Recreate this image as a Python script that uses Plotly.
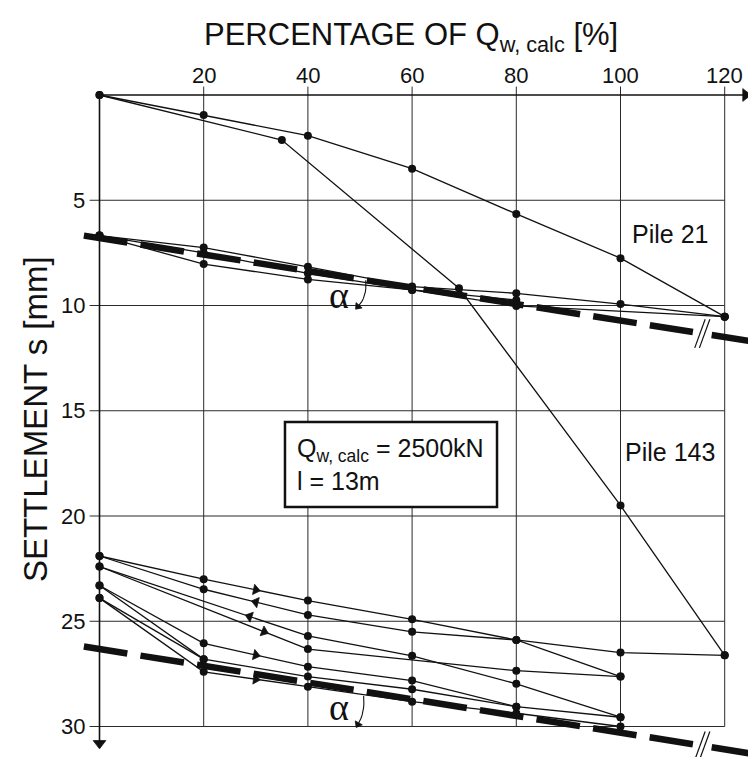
import plotly.graph_objects as go

# ---------------- data ----------------
pct_ticks = [20, 40, 60, 80, 100, 120]
s_ticks = [5, 10, 15, 20, 25, 30]

# first loading curves
pile21_x = [0, 20, 40, 60, 80, 100, 120]
pile21_s = [0, 0.95, 1.93, 3.5, 5.65, 7.75, 10.53]

pile143_x = [0, 35, 69, 100, 120]
pile143_s = [0, 2.14, 9.18, 19.5, 26.62]

# Pile 21 load cycles
p21_c1_x = [0, 20, 40, 60, 80, 100, 120]
p21_c1_s = [6.68, 7.25, 8.16, 9.1, 9.42, 9.93, 10.53]
p21_c2_x = [0, 20, 40, 60, 80]
p21_c2_s = [6.68, 7.5, 8.47, 9.26, 9.74]
p21_c3_x = [0, 20, 40, 60, 80, 120]
p21_c3_s = [6.68, 8.03, 8.76, 9.26, 10.02, 10.53]

# Pile 143 load cycles
p143_c1_x = [0, 20, 40, 60, 80, 100, 120]
p143_c1_s = [21.9, 23.0, 24.02, 24.91, 25.89, 26.49, 26.62]
p143_c2_x = [0, 20, 40, 60, 80, 100]
p143_c2_s = [21.9, 23.48, 24.7, 25.5, 25.89, 27.63]
p143_c3_x = [0, 40, 60, 80, 100]
p143_c3_s = [22.4, 25.7, 26.64, 27.97, 29.56]
p143_c4_x = [0, 40, 80, 100]
p143_c4_s = [22.4, 26.32, 27.35, 27.63]
p143_c5_x = [0, 20, 40, 60, 80, 100]
p143_c5_s = [23.3, 26.05, 27.16, 27.82, 29.06, 29.56]
p143_c6_x = [0, 20, 40, 60, 80]
p143_c6_s = [23.3, 26.8, 27.63, 28.23, 29.06]
p143_c7_x = [0, 20]
p143_c7_s = [23.9, 26.8]
p143_c8_x = [0, 20, 40, 60, 80, 100]
p143_c8_s = [23.9, 27.4, 28.11, 28.82, 29.37, 30.0]

# direction arrows on cycle lines: (x0, s0, x1, s1, position fraction, direction)
cycle_arrows = [
    (20, 23.0, 40, 24.02, 0.5, 1),
    (20, 23.48, 40, 24.7, 0.5, -1),
    (0, 22.4, 40, 25.7, 0.72, -1),
    (0, 22.4, 40, 26.32, 0.79, 1),
    (20, 26.05, 40, 27.16, 0.5, 1),
    (20, 27.4, 40, 28.11, 0.5, 1),
]

# envelope (dashed) lines and their break gap
env21_x = [-3, 124.6]
env21_s = [6.68, 11.68]
env143_x = [-3, 124.6]
env143_s = [26.2, 31.27]
break_gap = [113.9, 117.5]

# ---------------- geometry of the page ----------------
W, H = 748, 757
X0_PX, X_SCALE = 99.5, 5.21     # pixel of x=0, pixels per %
Y0_PX, Y_SCALE = 95.0, 21.05    # pixel of s=0, pixels per mm
x_rng = [(0 - X0_PX) / X_SCALE, (W - X0_PX) / X_SCALE]
y_rng = [(H - Y0_PX) / Y_SCALE, (0 - Y0_PX) / Y_SCALE]

INK = "#111111"
SANS = "Liberation Sans, Arial, Helvetica, sans-serif"
SERIF = "Liberation Serif, DejaVu Serif, serif"

fig = go.Figure()

# grid
gx, gy = [], []
for t in pct_ticks:
    gx += [t, t, None]
    gy += [-0.4, s_ticks[-1], None]
for t in s_ticks:
    gx += [-1.9, pct_ticks[-1], None]
    gy += [t, t, None]
fig.add_trace(go.Scatter(x=gx, y=gy, mode="lines",
                         line=dict(color="#2a2a2a", width=1), hoverinfo="skip"))

HEAD = dict(angleref="previous", color=INK, opacity=1, line=dict(width=0.8, color=INK))


def arrow_line(xs, ys, width=1.4, head=12, symbol="triangle-up"):
    """polyline whose last point carries an arrowhead oriented along the line"""
    n = len(xs)
    fig.add_trace(go.Scatter(
        x=xs, y=ys, mode="lines",
        line=dict(color=INK, width=width), hoverinfo="skip"))
    fig.add_trace(go.Scatter(
        x=xs[-2:], y=ys[-2:], mode="markers",
        marker=dict(symbol=["circle", symbol], size=[0, head], **HEAD),
        hoverinfo="skip"))


# axes with arrows
arrow_line([0, 124.0], [0, 0], width=1.6, head=11)
arrow_line([0, 0], [0, 30.8], width=1.6, head=11)


def curve(x, s, w=1.3):
    fig.add_trace(go.Scatter(x=x, y=s, mode="lines+markers",
                             line=dict(color=INK, width=w),
                             marker=dict(color=INK, size=8),
                             hoverinfo="skip"))


for xs, ss in [(pile21_x, pile21_s), (pile143_x, pile143_s),
               (p21_c1_x, p21_c1_s), (p21_c2_x, p21_c2_s), (p21_c3_x, p21_c3_s),
               (p143_c1_x, p143_c1_s), (p143_c2_x, p143_c2_s), (p143_c3_x, p143_c3_s),
               (p143_c4_x, p143_c4_s), (p143_c5_x, p143_c5_s), (p143_c6_x, p143_c6_s),
               (p143_c7_x, p143_c7_s), (p143_c8_x, p143_c8_s)]:
    curve(xs, ss)

# direction arrows on cycles (arrowhead marker only)
for x0, s0, x1, s1, f, d in cycle_arrows:
    hx = x0 + (x1 - x0) * f
    hy = s0 + (s1 - s0) * f
    f2 = f - 0.05 * d
    tx = x0 + (x1 - x0) * f2
    ty = s0 + (s1 - s0) * f2
    fig.add_trace(go.Scatter(
        x=[tx, hx], y=[ty, hy], mode="markers",
        marker=dict(symbol=["circle", "triangle-up"], size=[0, 9], **HEAD),
        hoverinfo="skip"))


# dashed envelopes with break marks
def interp(xe, se, x):
    return se[0] + (se[1] - se[0]) * (x - xe[0]) / (xe[1] - xe[0])


for xe, se in [(env21_x, env21_s), (env143_x, env143_s)]:
    for a, b in [(xe[0], break_gap[0]), (break_gap[1], xe[1])]:
        fig.add_trace(go.Scatter(x=[a, b], y=[interp(xe, se, a), interp(xe, se, b)],
                                 mode="lines",
                                 line=dict(color=INK, width=6.5, dash="44px,13.3px"),
                                 hoverinfo="skip"))
    xm = 0.5 * (break_gap[0] + break_gap[1])
    sm = interp(xe, se, xm)
    bx, by = [], []
    for off in [-0.45, 0.45]:
        bx += [xm + off + 1.0, xm + off - 1.0, None]
        by += [sm - 0.68, sm + 0.68, None]
    fig.add_trace(go.Scatter(x=bx, y=by, mode="lines",
                             line=dict(color=INK, width=1.2), hoverinfo="skip"))

# angle alpha arcs (quadratic curve from envelope down to grid line)
for p0, c, p1 in [((51.1, 8.8), (51.4, 9.6), (49.6, 10.05)),
                  ((50.7, 28.55), (51.0, 29.35), (49.6, 29.9))]:
    ax_, ay_ = [], []
    for i in range(9):
        t = i / 8
        ax_.append((1 - t) ** 2 * p0[0] + 2 * (1 - t) * t * c[0] + t ** 2 * p1[0])
        ay_.append((1 - t) ** 2 * p0[1] + 2 * (1 - t) * t * c[1] + t ** 2 * p1[1])
    arrow_line(ax_, ay_, width=1.1, head=7)

annotations = []

# tick labels
for t in pct_ticks:
    annotations.append(dict(x=t, y=-0.92, xref="x", yref="y", text=str(t), showarrow=False,
                            font=dict(family=SANS, size=22, color=INK),
                            xanchor="center", yanchor="middle"))
for t in s_ticks:
    annotations.append(dict(x=-2.4, y=t, xref="x", yref="y", text=str(t), showarrow=False,
                            font=dict(family=SANS, size=22, color=INK),
                            xanchor="right", yanchor="middle"))

# axis titles
annotations.append(dict(x=59.8, y=-2.75, xref="x", yref="y",
                        text="PERCENTAGE OF Q<sub>w, calc</sub> [%]", showarrow=False,
                        font=dict(family=SANS, size=31, color=INK),
                        xanchor="center", yanchor="middle"))
annotations.append(dict(x=-12.4, y=15.4, xref="x", yref="y",
                        text="SETTLEMENT s [mm]", showarrow=False, textangle=-90,
                        font=dict(family=SANS, size=33, color=INK),
                        xanchor="center", yanchor="middle"))

# pile labels
annotations.append(dict(x=101.8, y=6.6, xref="x", yref="y", text="Pile 21", showarrow=False,
                        font=dict(family=SANS, size=25, color=INK),
                        xanchor="left", yanchor="middle"))
annotations.append(dict(x=100.5, y=16.96, xref="x", yref="y", text="Pile 143", showarrow=False,
                        font=dict(family=SANS, size=25, color=INK),
                        xanchor="left", yanchor="middle"))

# info box text
annotations.append(dict(x=37.6, y=17.55, xref="x", yref="y",
                        text="Q<sub>w, calc</sub> = 2500kN<br>l = 13m", showarrow=False,
                        align="left", font=dict(family=SANS, size=25, color=INK),
                        xanchor="left", yanchor="middle"))

# alpha labels
for tx, ty in [(46.0, 9.5), (46.0, 29.05)]:
    annotations.append(dict(x=tx, y=ty, xref="x", yref="y", text="α", showarrow=False,
                            font=dict(family=SERIF, size=38, color=INK),
                            xanchor="center", yanchor="middle"))

# info box
shapes = [dict(type="rect", xref="x", yref="y", x0=35.6, x1=76.3, y0=15.53, y1=19.57,
               line=dict(color=INK, width=2.5), fillcolor="white", layer="above")]

fig.update_layout(
    width=W, height=H, autosize=False,
    margin=dict(l=0, r=0, t=0, b=0, pad=0),
    paper_bgcolor="white", plot_bgcolor="white",
    showlegend=False,
    xaxis=dict(range=x_rng, visible=False, fixedrange=True),
    yaxis=dict(range=y_rng, visible=False, fixedrange=True),
    annotations=annotations,
    shapes=shapes,
)

fig.write_html("out.html")
